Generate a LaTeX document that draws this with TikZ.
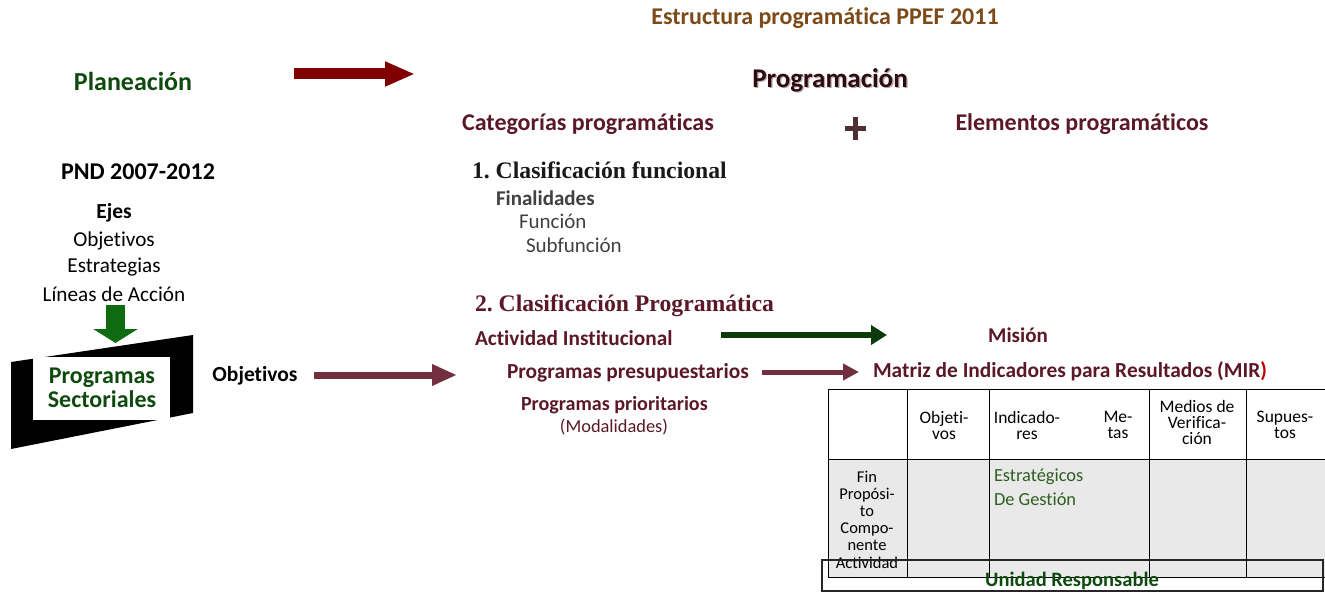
\documentclass[tikz,border=0pt]{standalone}
\usepackage{fontspec}
\setmainfont{Carlito}[Ligatures=NoCommon]
\newfontfamily\serifb{Liberation Serif}
\usetikzlibrary{arrows.meta}
\definecolor{titlebrown}{HTML}{7B4A17}
\definecolor{plangreen}{HTML}{0E4A0E}
\definecolor{maroon}{HTML}{5A1828}
\definecolor{darkmaroon}{HTML}{2E0A12}
\definecolor{darkred}{HTML}{800000}
\definecolor{arrowgreen}{HTML}{0F6B0F}
\definecolor{arrowmaroon}{HTML}{722F40}
\definecolor{deepgreen}{HTML}{0B3B0B}
\definecolor{textgray}{HTML}{404040}
\definecolor{cellgray}{HTML}{E9E9E9}
\definecolor{tgreen}{HTML}{2E5E1E}
\newcommand\fsz[1]{\fontsize{#1pt}{1.2\dimexpr#1pt\relax}\selectfont}
\frenchspacing
\begin{document}
\begin{tikzpicture}[x=1pt,y=-1pt,
  txt/.style={inner sep=0pt, outer sep=0pt},
  lbl/.style={txt, anchor=west},
  hdr/.style={txt, align=center, font=\fsz{17.5}, text=black},
  cell/.style={draw=black, line width=0.8pt},
  blockarrow/.style={line cap=butt}
]
\useasboundingbox (0,0) rectangle (1325,596);

% title
\node[txt, font=\bfseries\fsz{24}, text=titlebrown] (title) at (825,18) {Estructura programática PPEF 2011};

% Planeacion -> Programacion
\node[txt, font=\bfseries\fsz{26}, text=plangreen] (plan) at (133,81) {Planeación};
\coordinate (a1s) at (294,74);
\coordinate (a1e) at (415,74);
\draw[blockarrow, darkred, line width=11pt, -{Triangle[length=30pt,width=23pt]}] (a1s) -- (a1e);

\node[txt, font=\bfseries\fsz{27}, text=darkmaroon!35] at (831.3,81.3) {Programación};
\node[txt, font=\bfseries\fsz{27}, text=darkmaroon] (prog) at (830,80) {Programación};

\node[txt, font=\bfseries\fsz{24}, text=maroon] (cat) at (588,124) {Categorías programáticas};
\node[txt, font=\bfseries\fsz{24}, text=maroon] (elem) at (1082,124) {Elementos programáticos};
\draw[darkmaroon!85, line width=5pt] (845,128.5) -- (866,128.5);
\draw[darkmaroon!85, line width=5pt] (855.5,117) -- (855.5,140);

% left column
\node[txt, font=\bfseries\fsz{24}, text=black] (pnd) at (138,172) {PND 2007-2012};
\node[txt, font=\bfseries\fsz{21.5}, text=black] (ejes) at (114,213) {Ejes};
\node[txt, font=\fsz{21.2}, text=black] (obj1) at (114,241) {Objetivos};
\node[txt, font=\fsz{21.2}, text=black] (estr) at (114,267) {Estrategias};
\node[txt, font=\fsz{21.2}, text=black] (lin) at (114,294) {Líneas de Acción};

% green down arrow
\coordinate (d1) at (115.5,305);
\coordinate (d2) at (115.5,343);
\draw[blockarrow, arrowgreen, line width=19pt, -{Triangle[length=14pt,width=44pt]}] (d1) -- (d2);

% Programas sectoriales frame
\fill[black] (11,362) -- (193,335) -- (193,413) -- (11,449) -- cycle;
\fill[white] (33,357) rectangle (170,420);
\node[txt, align=center, font=\bfseries\fsz{24}, text=plangreen] (ps) at (102,388) {Programas\\[-5pt]Sectoriales};

\node[txt, font=\bfseries\fsz{21.5}, text=black] (obj2) at (255,376) {Objetivos};
\coordinate (a2s) at (314,375);
\coordinate (a2e) at (457,375);
\draw[blockarrow, arrowmaroon, line width=7pt, -{Triangle[length=25pt,width=20pt]}] (a2s) -- (a2e);

% middle column
\node[lbl, font=\serifb\bfseries\fsz{23.7}, text=black!90] (cf) at (472,170) {1. Clasificación funcional};
\node[lbl, font=\bfseries\fsz{21}, text=textgray] (fin) at (496,198) {Finalidades};
\node[lbl, font=\fsz{21}, text=textgray] (fun) at (519,221) {Función};
\node[lbl, font=\fsz{21}, text=textgray] (sub) at (526,245) {Subfunción};

\node[lbl, font=\serifb\bfseries\fsz{23.7}, text=maroon] (cp) at (475,306) {2. Clasificación Programática};
\node[lbl, font=\bfseries\fsz{21.3}, text=maroon] (act) at (475,338) {Actividad Institucional};
\node[lbl, font=\bfseries\fsz{21.4}, text=maroon] (pp) at (507,373) {Programas presupuestarios};
\node[lbl, font=\bfseries\fsz{20.1}, text=maroon] (ppr) at (521,405) {Programas prioritarios};
\node[txt, font=\fsz{18.4}, text=maroon] (mod) at (614,427) {(Modalidades)};

\coordinate (a3s) at (721,335);
\coordinate (a3e) at (887,335);
\draw[blockarrow, deepgreen, line width=6.5pt, -{Triangle[length=16pt,width=19pt]}] (a3s) -- (a3e);
\node[txt, font=\bfseries\fsz{21}, text=maroon] (mis) at (1018,335) {Misión};

\coordinate (a4s) at (762,372);
\coordinate (a4e) at (859,372);
\draw[blockarrow, arrowmaroon, line width=5pt, -{Triangle[length=16pt,width=16pt]}] (a4s) -- (a4e);
\node[lbl, font=\bfseries\fsz{21.4}, text=maroon] (mir) at (873,371) {Matriz de Indicadores para Resultados (MIR\textcolor{red!75!black}{)}};

% table
\fill[cellgray] (828,459) rectangle (1327,577);
\draw[cell] (828,389) rectangle (1327,577);
\draw[cell] (828,459) -- (1327,459);
\foreach \x in {907,989,1149,1246} \draw[cell] (\x,389) -- (\x,577);

\node[hdr] (h1) at (944,425) {Objeti-\\[-5pt]vos};
\node[hdr] (h2) at (1027,425) {Indicado-\\[-5pt]res};
\node[hdr] (h3) at (1118,425) {Me-\\[-5pt]tas};
\node[hdr] (h4) at (1197,422) {Medios de\\[-5pt]Verifica-\\[-5pt]ción};
\node[hdr] (h5) at (1285,425) {Supues-\\[-5pt]tos};

\node[txt, align=center, font=\fsz{16.5}, text=black, anchor=north] (rows) at (867,471.5) {Fin\\[-3pt]Propósi-\\[-3pt]to\\[-3pt]Compo-\\[-3pt]nente\\[-1pt]Actividad};
\node[lbl, font=\fsz{18.4}, text=tgreen] (est) at (994,477) {Estratégicos};
\node[lbl, font=\fsz{18.4}, text=tgreen] (ges) at (994,499) {De Gestión};

\draw[black!85, line width=1.3pt] (822,560) rectangle (1323,591);
\node[txt, font=\bfseries\fsz{20.5}, text=plangreen] (ur) at (1072,581) {Unidad Responsable};
\end{tikzpicture}
\end{document}
